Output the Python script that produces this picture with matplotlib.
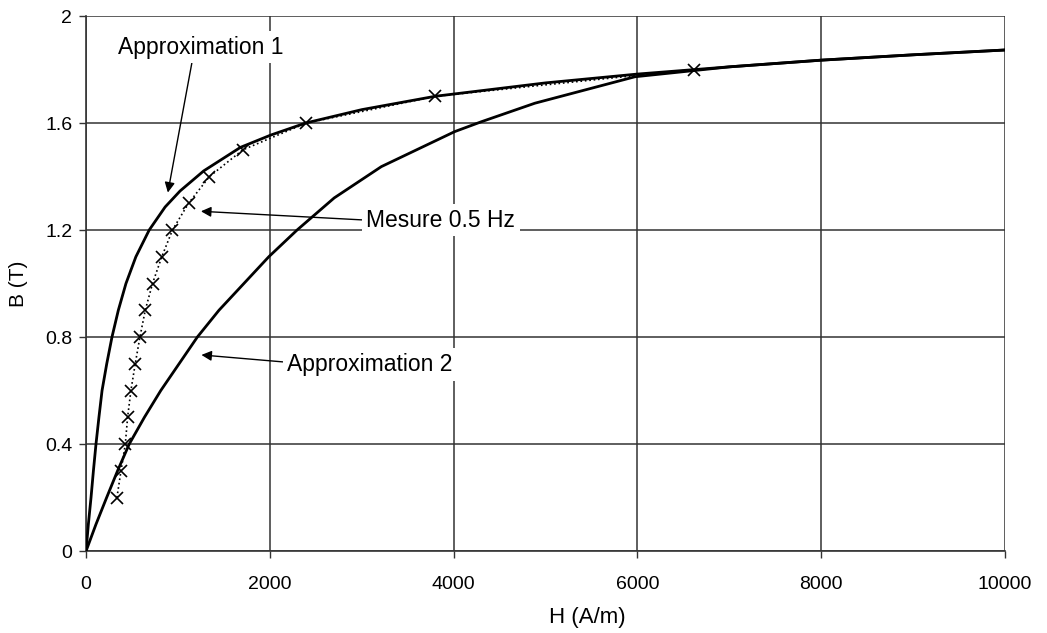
import numpy as np
import matplotlib
matplotlib.use('Agg')
import matplotlib.pyplot as plt

# measured points, 0.5 Hz
h_mes = [336, 380, 427, 452, 488, 535, 586, 644, 723, 824, 940, 1115, 1343, 1707, 2397, 3802, 6612]
b_mes = [0.2, 0.3, 0.4, 0.5, 0.6, 0.7, 0.8, 0.9, 1.0, 1.1, 1.2, 1.3, 1.4, 1.5, 1.6, 1.7, 1.8]

# approximation 1
h_app1 = [0, 25, 54, 80, 108, 140, 174, 225, 282, 351, 434, 542, 687, 860, 1023, 1280, 1680,
          2010, 2390, 3000, 3800, 5000, 6000, 7000, 8000, 9000, 10000]
b_app1 = [0, 0.1, 0.2, 0.3, 0.4, 0.5, 0.6, 0.7, 0.8, 0.9, 1.0, 1.1, 1.2, 1.286, 1.346, 1.421, 1.509,
          1.555, 1.6, 1.65, 1.70, 1.75, 1.783, 1.81, 1.835, 1.855, 1.873]

# approximation 2
h_app2 = [0, 108, 224, 343, 470, 635, 813, 1012, 1211, 1446, 1717, 1988, 2296, 2700, 3213,
          4012, 4303, 4883, 5973, 7000, 8000, 9000, 10000]
b_app2 = [0, 0.1, 0.2, 0.3, 0.4, 0.5, 0.6, 0.7, 0.8, 0.9, 1.0, 1.1, 1.2, 1.32, 1.437,
          1.568, 1.605, 1.674, 1.773, 1.81, 1.835, 1.855, 1.873]

x_ticks = [0, 2000, 4000, 6000, 8000, 10000]
y_ticks = [0, 0.4, 0.8, 1.2, 1.6, 2]
y_labels = ['0', '0.4', '0.8', '1.2', '1.6', '2']

plt.rcParams['font.family'] = ['Liberation Sans', 'DejaVu Sans']

fig = plt.figure(figsize=(10.47, 6.33), dpi=100)
ax = fig.add_axes([0.0822, 0.1295, 0.8778, 0.8452])

ax.plot(h_app1, b_app1, color='black', lw=2.0, zorder=3)
ax.plot(h_app2, b_app2, color='black', lw=2.0, zorder=3)
ax.plot(h_mes, b_mes, color='black', lw=1.2, ls=':', marker='x', ms=8, mew=1.2, zorder=4)

ax.set_xlim(0, 10000)
ax.set_ylim(0, 2)
ax.set_xticks(x_ticks)
ax.set_yticks(y_ticks)
ax.set_yticklabels(y_labels)
ax.grid(True, color='#333333', lw=1.1)
ax.set_axisbelow(True)
ax.tick_params(direction='out', length=5, width=1, color='#333333', labelsize=14)
ax.tick_params(axis='x', pad=13)
ax.tick_params(axis='y', pad=5)
for s in ax.spines.values():
    s.set_color('#333333')
    s.set_linewidth(1.2)
ax.spines['top'].set_visible(False)
ax.spines['right'].set_visible(False)

ax.set_xlabel('H (A/m)', fontsize=16, labelpad=6)
ax.xaxis.set_label_coords(0.545, -0.105)
ax.set_ylabel('B (T)', fontsize=15, labelpad=12)

box = dict(boxstyle='square,pad=0.2', fc='white', ec='none')
arrow = dict(arrowstyle='-|>', color='black', lw=1.0, mutation_scale=15, shrinkA=0, shrinkB=0)

ax.annotate('Approximation 1', xy=(890, 1.34), xytext=(1250, 1.884), fontsize=16.5,
            ha='center', va='center', bbox=box, zorder=6,
            arrowprops=dict(arrow, relpos=(0.45, 0.0)))
ax.annotate('Mesure 0.5 Hz', xy=(1250, 1.27), xytext=(3050, 1.237), fontsize=16.5,
            ha='left', va='center', bbox=box, zorder=6,
            arrowprops=dict(arrow, relpos=(0.0, 0.5)))
ax.annotate('Approximation 2', xy=(1255, 0.733), xytext=(2190, 0.697), fontsize=16.5,
            ha='left', va='center', bbox=box, zorder=6,
            arrowprops=dict(arrow, relpos=(0.0, 0.6)))

fig.savefig('out.png', dpi=100)
